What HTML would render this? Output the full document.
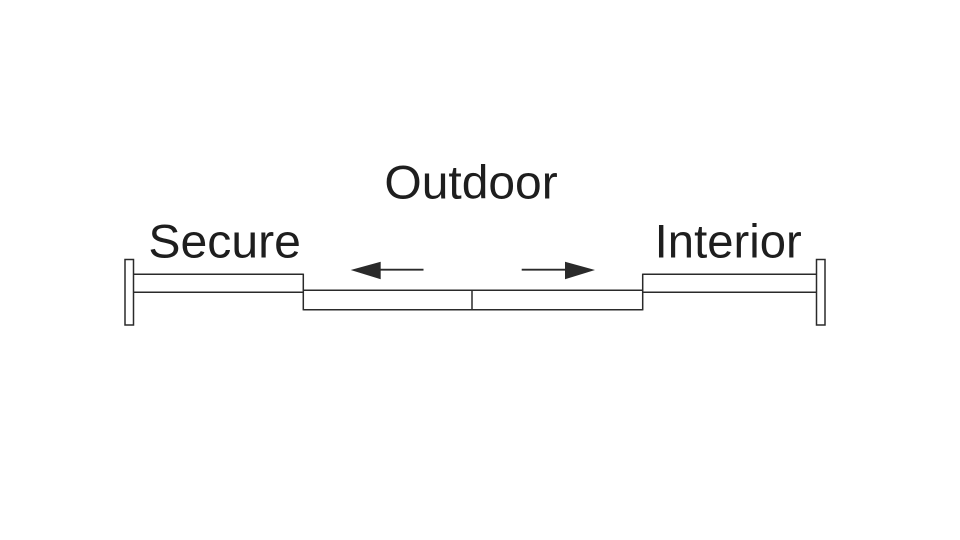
<!DOCTYPE html>
<html>
<head>
<meta charset="utf-8">
<style>
  html, body { margin: 0; padding: 0; background: #ffffff; }
  body { width: 960px; height: 540px; overflow: hidden; }
  svg { display: block; }
  text { font-family: "Liberation Sans", "DejaVu Sans", sans-serif; fill: #1e1e1e; }
</style>
</head>
<body>
<svg width="960" height="540" viewBox="0 0 960 540" xmlns="http://www.w3.org/2000/svg">
  <rect x="0" y="0" width="960" height="540" fill="#ffffff"/>

  <!-- Labels -->
  <text x="384.4" y="198.5" font-size="47" textLength="173.3" lengthAdjust="spacingAndGlyphs">Outdoor</text>
  <text x="148.4" y="257.7" font-size="47" textLength="152.5" lengthAdjust="spacingAndGlyphs">Secure</text>
  <text x="654.7" y="257.7" font-size="47" textLength="147" lengthAdjust="spacingAndGlyphs">Interior</text>

  <g fill="none" stroke="#2a2a2a" stroke-width="1.5">
    <!-- Left post -->
    <rect x="125" y="259.5" width="8.5" height="65.5" fill="#ffffff"/>
    <!-- Right post -->
    <rect x="816.5" y="259.5" width="8.5" height="65.5" fill="#ffffff"/>

    <!-- Left fixed bar -->
    <line x1="133.5" y1="274.3" x2="303.3" y2="274.3"/>
    <line x1="133.5" y1="292.3" x2="303.3" y2="292.3"/>
    <line x1="303.3" y1="273.6" x2="303.3" y2="310.4"/>

    <!-- Right fixed bar -->
    <line x1="642.7" y1="274.3" x2="816.5" y2="274.3"/>
    <line x1="642.7" y1="292.3" x2="816.5" y2="292.3"/>
    <line x1="642.7" y1="273.6" x2="642.7" y2="310.4"/>

    <!-- Sliding panels -->
    <line x1="303.3" y1="290.3" x2="642.7" y2="290.3"/>
    <line x1="303.3" y1="309.7" x2="642.7" y2="309.7"/>
    <line x1="472" y1="290.3" x2="472" y2="309.7"/>

    <!-- Arrow shafts -->
    <line x1="378" y1="269.7" x2="423.5" y2="269.7" stroke-width="1.8"/>
    <line x1="521.7" y1="269.7" x2="568" y2="269.7" stroke-width="1.8"/>
  </g>

  <!-- Arrowheads -->
  <polygon points="350.7,270 380.7,261.7 380.7,279.3" fill="#2a2a2a"/>
  <polygon points="595,270 565,261.7 565,279.3" fill="#2a2a2a"/>
</svg>
</body>
</html>
